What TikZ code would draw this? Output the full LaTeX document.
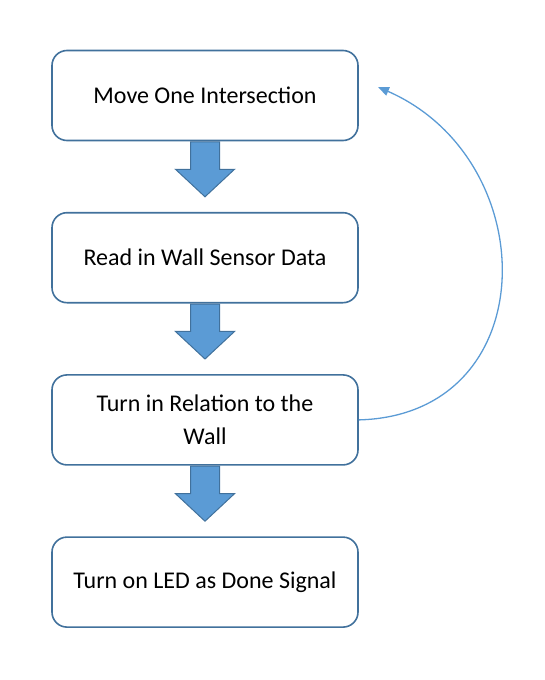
\documentclass[tikz,border=0pt]{standalone}
\usepackage{fontspec}
\setmainfont{Carlito}
\usetikzlibrary{positioning,shapes.arrows,arrows.meta}
\definecolor{boxline}{HTML}{41719C}
\definecolor{boxfill}{HTML}{5B9BD5}
\tikzset{
  stepbox/.style={draw=boxline, line width=1.6pt, rounded corners=15pt, fill=white,
    minimum width=306pt, minimum height=90pt, align=center,
    font=\fontsize{24}{33.5}\selectfont},
  downarrow/.style={single arrow, draw=boxline, fill=boxfill, line width=1pt,
    rotate=-90, anchor=tail, minimum height=55pt, inner xsep=0pt, inner ysep=14pt,
    single arrow head extend=15pt, single arrow tip angle=94},
  loopback/.style={draw=boxfill, line width=1.3pt, -{Triangle[length=11pt,width=9pt]}}
}
\begin{document}
\begin{tikzpicture}[x=1pt,y=-1pt]
  \useasboundingbox (0,0) rectangle (544,680);
  \node[stepbox] (move) at (205,95.5) {Move One Intersection};
  \node[stepbox, below=70.6pt of move] (read) {Read in Wall Sensor Data};
  \node[stepbox, below=70.6pt of read] (turn) {Turn in Relation to the\\Wall};
  \node[stepbox, below=70.6pt of turn] (led) {Turn on LED as Done Signal};
  \node[downarrow] (moveread) at (move.south) {};
  \node[downarrow] (readturn) at (read.south) {};
  \node[downarrow] (turnled) at (turn.south) {};
  \coordinate (back) at (378,87);
  \draw[loopback] (turn.east) .. controls (545,415) and (545,160) .. (back);
\end{tikzpicture}
\end{document}
